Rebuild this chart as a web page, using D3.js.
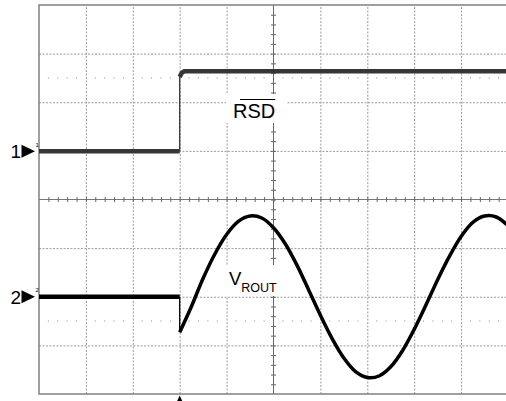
<!DOCTYPE html>
<html><head><meta charset="utf-8">
<script src="https://cdn.jsdelivr.net/npm/d3@7"></script>
<style>body{margin:0;background:#fff}svg{display:block}</style>
</head><body>
<svg id="c" width="506" height="401"></svg>
<script>
// ---- data (time in divisions, voltage in divisions) ----
const ch1Times  = [0, 3.0, 3.0, 3.04, 3.1, 10];
const ch1Values = [0.99, 0.99, 2.52, 2.6, 2.64, 2.64];
const ch2StepTimes  = [0, 3.0, 3.0];
const ch2StepValues = [-2.0, -2.0, -2.73];
const ch2Times  = [3.0, 3.25, 3.5, 3.75, 4.0, 4.25, 4.5, 4.75, 5.0, 5.25, 5.5, 5.75, 6.0, 6.25, 6.5, 6.75,
                   7.0, 7.25, 7.5, 7.75, 8.0, 8.25, 8.5, 8.75, 9.0, 9.25, 9.5, 9.75, 10.0];
const ch2Values = [-2.73, -2.2, -1.62, -1.12, -0.72, -0.45, -0.34, -0.38, -0.58, -0.91, -1.35, -1.86, -2.38, -2.86, -3.26, -3.54,
                   -3.66, -3.63, -3.44, -3.11, -2.67, -2.17, -1.65, -1.17, -0.76, -0.47, -0.34, -0.36, -0.54];
const channelLabels = ["1", "2"];
const channelLevels = [0.99, -2.0];
const triggerTime = [3.0];
const refDotLevels = [2.5, -2.5];
const label1 = "RSD";
const label2Main = "V";
const label2Sub = "ROUT";

// ---- layout ----
const svg = d3.select("#c");
const x = d3.scaleLinear().domain([0, 10]).range([39, 508]);
const y = d3.scaleLinear().domain([4, -4]).range([5, 394]);
const H = y(-4) - y(4);

// grid (dashed)
const vGrid = d3.axisBottom(x).tickValues(d3.range(1, 10).filter(d => d !== 5)).tickSize(-H).tickFormat("");
svg.append("g").attr("transform", `translate(0,${y(-4)})`).call(vGrid)
  .call(g => g.select(".domain").remove())
  .selectAll("line").attr("stroke", "#9a9a9a").attr("stroke-dasharray", "2,1.5");
const hGrid = d3.axisLeft(y).tickValues(d3.range(-3, 4).filter(d => d !== 0)).tickSize(-(x(10) - x(0))).tickFormat("");
svg.append("g").attr("transform", `translate(${x(0)},0)`).call(hGrid)
  .call(g => g.select(".domain").remove())
  .selectAll("line").attr("stroke", "#9a9a9a").attr("stroke-dasharray", "2,1.5");

// reference dotted rows
const dotTimes = d3.range(0.2, 10, 0.2).filter(t => Math.abs(t - Math.round(t)) > 0.05);
refDotLevels.forEach(v => {
  svg.append("g").selectAll("rect").data(dotTimes).join("rect")
    .attr("x", d => x(d) - 0.5).attr("y", y(v) - 0.5).attr("width", 1).attr("height", 1).attr("fill", "#888");
});

// center cross
svg.append("line").attr("x1", x(5)).attr("x2", x(5)).attr("y1", y(4)).attr("y2", y(-4)).attr("stroke", "#666");
svg.append("line").attr("x1", x(0)).attr("x2", x(10)).attr("y1", y(0)).attr("y2", y(0)).attr("stroke", "#777");
const hTicks = d3.axisBottom(x).tickValues(d3.range(0.2, 10, 0.2)).tickSize(5).tickFormat("");
svg.append("g").attr("transform", `translate(0,${y(0) - 2.5})`).call(hTicks)
  .call(g => g.select(".domain").remove()).selectAll("line").attr("stroke", "#666");
const vTicks = d3.axisRight(y).tickValues(d3.range(-3.8, 4, 0.2)).tickSize(5).tickFormat("");
svg.append("g").attr("transform", `translate(${x(5) - 2.5},0)`).call(vTicks)
  .call(g => g.select(".domain").remove()).selectAll("line").attr("stroke", "#666");

// frame
svg.append("rect").attr("x", x(0)).attr("y", y(4)).attr("width", x(10) - x(0)).attr("height", H)
  .attr("fill", "none").attr("stroke", "#808080").attr("stroke-width", 1.5);

// label boxes (white backgrounds)
svg.append("rect").attr("x", 226).attr("y", 94).attr("width", 61).attr("height", 29).attr("fill", "#fff");
svg.append("rect").attr("x", 224).attr("y", 265).attr("width", 58).attr("height", 31).attr("fill", "#fff");

// traces: fast vertical edges are thin, slow parts thick (noise band)
const lineLin = d3.line().x(d => x(d[0])).y(d => y(d[1]));
const lineSmooth = d3.line().x(d => x(d[0])).y(d => y(d[1])).curve(d3.curveCatmullRom.alpha(0.5));
function drawTrace(pts, color, thick, gen) {
  // split into runs: vertical (same time) -> thin, others -> thick
  let run = [pts[0]];
  const runs = [];
  for (let i = 1; i < pts.length; i++) {
    const vertical = pts[i][0] === pts[i - 1][0];
    if (vertical) {
      if (run.length > 1) runs.push({ pts: run, thin: false });
      runs.push({ pts: [pts[i - 1], pts[i]], thin: true });
      run = [pts[i]];
    } else run.push(pts[i]);
  }
  if (run.length > 1) runs.push({ pts: run, thin: false });
  runs.forEach(r => {
    svg.append("path").attr("d", (r.thin ? lineLin : gen)(r.pts))
      .attr("fill", "none").attr("stroke", color).attr("stroke-width", r.thin ? 1.3 : thick)
      .attr("stroke-linecap", r.thin ? "butt" : "butt");
  });
}
drawTrace(d3.zip(ch1Times, ch1Values), "#363636", 4.5, lineLin);
drawTrace(d3.zip(ch2StepTimes, ch2StepValues), "#000", 4.5, lineLin);
svg.append("path").attr("d", lineSmooth(d3.zip(ch2Times, ch2Values)))
  .attr("fill", "none").attr("stroke", "#000").attr("stroke-width", 3.5);

// channel markers
const font = "'Liberation Sans', Arial, sans-serif";
channelLabels.forEach((lab, i) => {
  const yy = y(channelLevels[i]);
  svg.append("text").attr("x", 10.5).attr("y", yy + 6.8).attr("font-family", font).attr("font-size", 19).text(lab);
  svg.append("path").attr("d", `M21.5,${yy - 6.5}L21.5,${yy + 6.5}L35,${yy}Z`).attr("fill", "#000");
  svg.append("text").attr("x", 35.5).attr("y", yy - 4.5).attr("font-family", font).attr("font-size", 6).text(lab);
});

// trigger marker
const tx = x(triggerTime[0]);
svg.append("path").attr("d", `M${tx},395.5L${tx + 3},402L${tx - 3},402Z`).attr("fill", "#000");

// labels
const t1 = svg.append("text").attr("x", 233).attr("y", 117.5).attr("font-family", font).attr("font-size", 20).text(label1);
const bb = t1.node().getBBox();
svg.append("line").attr("x1", bb.x + 7).attr("x2", bb.x + bb.width).attr("y1", 99.5).attr("y2", 99.5)
  .attr("stroke", "#000").attr("stroke-width", 1.2);
const t2 = svg.append("text").attr("x", 229).attr("y", 285).attr("font-family", font);
t2.append("tspan").attr("font-size", 18.5).text(label2Main);
t2.append("tspan").attr("font-size", 12.5).attr("dy", 6.5).text(label2Sub);
</script>
</body></html>
